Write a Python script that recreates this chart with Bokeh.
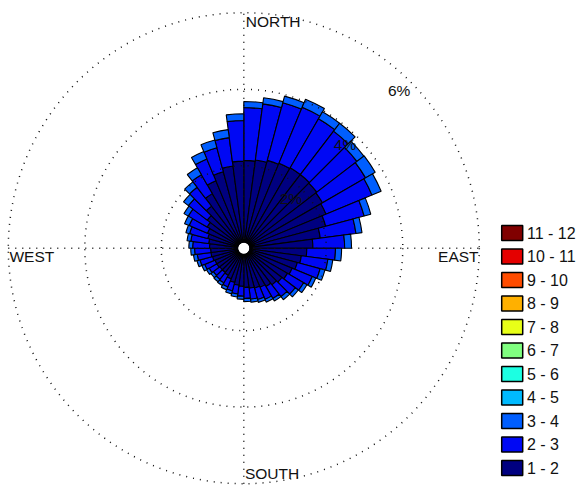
import numpy as np
from bokeh.plotting import figure
from bokeh.models import ColumnDataSource
from bokeh.core.properties import value
from bokeh.embed import file_html
from bokeh.resources import INLINE

# ---------------- data ----------------
sector_step = 7.5                                  # degrees per direction sector
sector_start = [i * sector_step for i in range(48)]  # bearing (clockwise from north)

# frequency (%) per sector for each speed class
speed_1_2 = [2.14, 2.17, 2.22, 2.25, 2.27, 2.27, 2.25, 2.22, 2.17, 2.06, 1.86, 1.65,
             1.49, 1.36, 1.29, 1.21, 1.16, 1.10, 1.05, 1.00, 0.95, 0.92, 0.90, 0.87,
             0.84, 0.82, 0.77, 0.71, 0.66, 0.64, 0.64, 0.66, 0.66, 0.69, 0.71, 0.71,
             0.74, 0.77, 0.82, 0.87, 0.95, 1.05, 1.23, 1.49, 1.75, 1.91, 2.01, 2.12]
speed_2_3 = [1.38, 1.48, 1.56, 1.58, 1.48, 1.43, 1.32, 1.30, 1.30, 1.04, 0.94, 0.83,
             0.75, 0.70, 0.62, 0.57, 0.49, 0.44, 0.39, 0.36, 0.34, 0.31, 0.29, 0.29,
             0.26, 0.23, 0.23, 0.23, 0.23, 0.23, 0.21, 0.23, 0.29, 0.34, 0.36, 0.42,
             0.44, 0.47, 0.49, 0.52, 0.57, 0.62, 0.62, 0.57, 0.62, 0.65, 0.75, 1.06]
speed_3_4 = [0.16, 0.16, 0.18, 0.23, 0.21, 0.26, 0.23, 0.29, 0.26, 0.18, 0.16, 0.18,
             0.16, 0.13, 0.13, 0.10, 0.10, 0.10, 0.10, 0.08, 0.08, 0.08, 0.08, 0.08,
             0.08, 0.08, 0.08, 0.08, 0.08, 0.08, 0.08, 0.08, 0.08, 0.08, 0.10, 0.10,
             0.10, 0.10, 0.10, 0.13, 0.13, 0.16, 0.18, 0.21, 0.21, 0.21, 0.21, 0.18]

bin_labels = ["1 - 2", "2 - 3", "3 - 4", "4 - 5", "5 - 6", "6 - 7",
              "7 - 8", "8 - 9", "9 - 10", "10 - 11", "11 - 12"]
bin_colors = ["#000080", "#0008F4", "#005EFF", "#00BAFF", "#1CFFE2", "#80FF80",
              "#E8FF18", "#FFB000", "#FF4C00", "#E40000", "#800000"]

ring_values = [2, 4, 6]
ring_labels = ["2%", "4%", "6%"]
compass_labels = ["NORTH", "SOUTH", "WEST", "EAST"]

# ---------------- layout ----------------
W, H = 582, 485
PX = 38.25             # pixels per percent
CX, CY = 243.3, 247.7  # centre of rose in figure pixels
hole = 6.0 / PX        # radius of the empty centre (in %)

p = figure(width=W, height=H, output_backend="svg", toolbar_location=None,
           x_axis_type=None, y_axis_type=None, min_border=0,
           x_range=(-CX / PX, (W - CX) / PX), y_range=(-(H - CY) / PX, CY / PX))
p.outline_line_color = None
p.background_fill_color = "white"
p.border_fill_color = "white"

def fx(px):
    return (px - CX) / PX

def fy(py):
    return (CY - py) / PX

# ---------------- bars ----------------
series = [speed_1_2, speed_2_3, speed_3_4]
base = np.full(len(sector_start), hole)
b0 = np.array(sector_start)
for vals, col in zip(series, bin_colors):
    vals = np.array(vals)
    src = ColumnDataSource(dict(
        x=np.zeros_like(b0), y=np.zeros_like(b0),
        inner=base.copy(), outer=base + vals,
        start=np.radians(90 - (b0 + sector_step)), end=np.radians(90 - b0)))
    p.annular_wedge(x="x", y="y", inner_radius="inner", outer_radius="outer",
                    start_angle="start", end_angle="end", source=src,
                    fill_color=col, line_color="black", line_width=1.1)
    base = base + vals

# ---------------- grid ----------------
R = hole + ring_values[-1]
grid_kw = dict(line_color="#111111", line_width=1.5, line_dash="1 6")
p.circle(x=[0] * len(ring_values), y=[0] * len(ring_values),
         radius=[hole + v for v in ring_values], fill_color=None, **grid_kw)
p.line(x=[-R, R], y=[0, 0], **grid_kw)
p.line(x=[0, 0], y=[-R, R], **grid_kw)

# empty white centre
p.circle(x=[0], y=[0], radius=[hole - 0.7 / PX], fill_color="white", line_color=None)

font = value("Liberation Sans")
fs = "15.5px"
c45 = np.cos(np.radians(45))
p.text(x=[(hole + v) * c45 for v in ring_values], y=[(hole + v) * c45 for v in ring_values],
       text=ring_labels, text_align="right", text_baseline="top",
       text_font=font, text_font_size=fs, text_color="#111111")

p.text(x=[0.05], y=[R], text=[compass_labels[0]], text_align="left", text_baseline="top",
       text_font=font, text_font_size=fs, text_color="#111111")
p.text(x=[0.03], y=[-R + 0.05], text=[compass_labels[1]], text_align="left", text_baseline="bottom",
       text_font=font, text_font_size=fs, text_color="#111111")
p.text(x=[-R + 0.03], y=[0], text=[compass_labels[2]], text_align="left", text_baseline="top",
       text_font=font, text_font_size=fs, text_color="#111111")
p.text(x=[R - 0.02], y=[0], text=[compass_labels[3]], text_align="right", text_baseline="top",
       text_font=font, text_font_size=fs, text_color="#111111")

# ---------------- legend ----------------
n = len(bin_labels)
rows_top = [225 + 7.5 + 23.5 * i for i in range(n)]   # top row is the highest class
lx = [fx(511.7)] * n
ly = [fy(y) for y in rows_top]
p.rect(x=lx, y=ly, width=21, height=15, width_units="screen", height_units="screen",
       fill_color=bin_colors[::-1], line_color="black", line_width=1.5)
p.text(x=[fx(526.5)] * n, y=ly, text=bin_labels[::-1], text_align="left",
       text_baseline="middle", text_font=font, text_font_size="16px", text_color="#111111")

open("out.html", "w").write(file_html(p, INLINE))
